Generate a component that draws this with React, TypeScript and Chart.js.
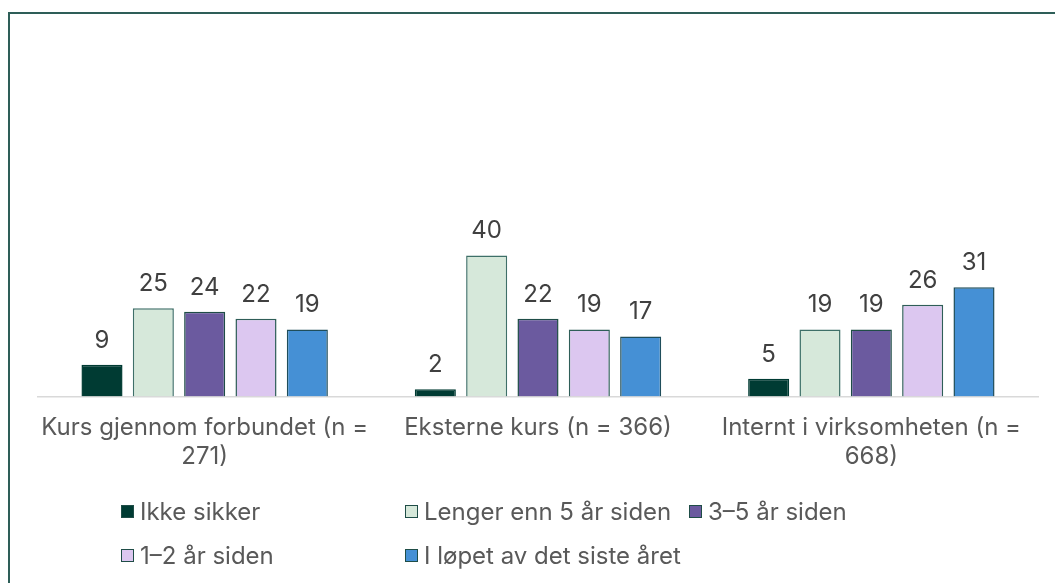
import React, { useEffect, useRef } from "react";
import { Chart, registerables } from "chart.js";

Chart.register(...registerables);

const FONT = "Inter, 'Noto Sans', sans-serif";

const categories: string[][] = [
  ["Kurs gjennom forbundet (n =", "271)"],
  ["Eksterne kurs (n = 366)"],
  ["Internt i virksomheten (n =", "668)"],
];

const seriesNames = [
  "Ikke sikker",
  "Lenger enn 5 år siden",
  "3–5 år siden",
  "1–2 år siden",
  "I løpet av det siste året",
];

const ikkeSikker = [9, 2, 5];
const lengerEnn5 = [25, 40, 19];
const treTilFem = [24, 22, 19];
const enTilTo = [22, 19, 26];
const sisteAar = [19, 17, 31];

const seriesValues = [ikkeSikker, lengerEnn5, treTilFem, enTilTo, sisteAar];
const seriesColors = ["#003b33", "#d6e8da", "#6b5a9f", "#dcc7f0", "#4590d5"];
const seriesBorders = ["#003b33", "#3e6f68", "#1f4d47", "#2f5e58", "#1f4d5a"];

const legendRows: number[][] = [
  [0, 1, 2],
  [3, 4],
];

export default function App() {
  const ref = useRef<HTMLCanvasElement>(null);

  useEffect(() => {
    if (!ref.current) return;
    const valueLabels = {
      id: "valueLabels",
      afterDatasetsDraw(chart: any) {
        const ctx = chart.ctx;
        ctx.save();
        ctx.font = `24px ${FONT}`;
        ctx.fillStyle = "#404040";
        ctx.textAlign = "center";
        ctx.textBaseline = "alphabetic";
        chart.data.datasets.forEach((ds: any, i: number) => {
          const meta = chart.getDatasetMeta(i);
          meta.data.forEach((el: any, j: number) => {
            ctx.fillText(String(ds.data[j]), el.x, el.y - 17);
          });
        });
        ctx.restore();
      },
    };

    const chart = new Chart(ref.current, {
      type: "bar",
      data: {
        labels: categories,
        datasets: seriesNames.map((name, i) => ({
          label: name,
          data: seriesValues[i],
          backgroundColor: seriesColors[i],
          borderColor: seriesBorders[i],
          borderWidth: 1.5,
          categoryPercentage: 0.77,
          barPercentage: 0.8,
        })),
      },
      options: {
        animation: false,
        responsive: false,
        layout: { padding: { left: 38, right: 17, top: 44, bottom: 95 } },
        plugins: {
          legend: { display: false },
          tooltip: { enabled: false },
        },
        scales: {
          x: {
            grid: { display: false, drawTicks: false },
            border: { display: true, color: "#d9d9d9", width: 1.5 },
            ticks: {
              color: "#595959",
              font: { family: FONT, size: 24, lineHeight: 1.2 },
              padding: 17,
              maxRotation: 0,
              autoSkip: false,
            },
          },
          y: {
            display: false,
            min: 0,
            max: 100,
          },
        },
      },
      plugins: [valueLabels],
    });
    return () => chart.destroy();
  }, []);

  const colLefts = [121, 405, 689];
  const rowCenters = [511, 555];

  return (
    <div
      style={{
        position: "fixed",
        left: 0,
        top: 0,
        width: 1055,
        height: 583,
        overflow: "hidden",
        background: "#ffffff",
        fontFamily: FONT,
      }}
    >
      <div
        style={{
          position: "absolute",
          left: 8,
          top: 12,
          width: 1200,
          height: 700,
          borderTop: "2px solid #2e5e58",
          borderLeft: "2px solid #2e5e58",
        }}
      />
      <canvas
        ref={ref}
        width={1055}
        height={583}
        style={{ position: "absolute", left: 0, top: 0, width: 1055, height: 583 }}
      />
      {legendRows.map((row, r) =>
        row.map((idx, c) => (
          <div
            key={idx}
            style={{
              position: "absolute",
              left: colLefts[c],
              top: rowCenters[r] - 15,
              height: 30,
              display: "flex",
              alignItems: "center",
              whiteSpace: "nowrap",
              fontSize: 24,
              color: "#595959",
            }}
          >
            <span
              style={{
                display: "inline-block",
                width: 13,
                height: 13,
                boxSizing: "border-box",
                background: seriesColors[idx],
                border: "1.5px solid #1f4d47",
                marginRight: 6,
              }}
            />
            <span>{seriesNames[idx]}</span>
          </div>
        ))
      )}
    </div>
  );
}
